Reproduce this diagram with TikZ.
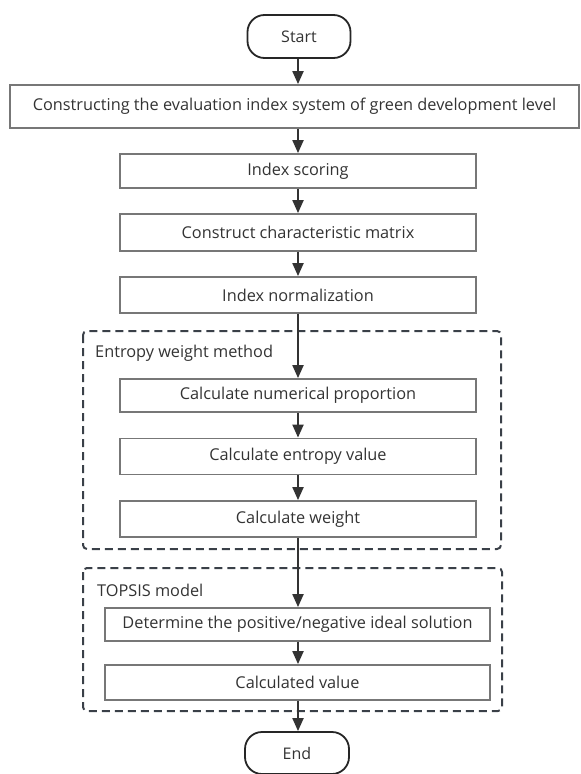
\documentclass[tikz,border=0pt]{standalone}
\usepackage{fontspec}
\setmainfont{Open Sans}
\usetikzlibrary{arrows.meta}
\definecolor{boxgray}{HTML}{777777}
\definecolor{txt}{HTML}{333333}
\definecolor{arr}{HTML}{333333}
\definecolor{dash}{HTML}{3A4048}
\tikzset{
  procbox/.style={draw=boxgray, line width=1.8pt, rectangle, inner sep=0pt, text=txt, font=\fontsize{16.3}{19}\selectfont},
  termbox/.style={draw=black!85, line width=1.8pt, rectangle, rounded corners=17pt, inner sep=0pt, text=txt, font=\fontsize{16}{19}\selectfont},
  flow/.style={draw=arr, line width=2pt, -{Triangle[length=13pt,width=11pt]}},
  groupbox/.style={draw=dash, line width=2pt, dash pattern=on 8pt off 5pt, rounded corners=4pt},
  grouplabel/.style={anchor=west, inner sep=0pt, text=txt, font=\fontsize{16.3}{19}\selectfont}
}
\begin{document}
\begin{tikzpicture}[x=1pt,y=-1pt]
\useasboundingbox (0,0) rectangle (581,774);
% group frames
\draw[groupbox] (83,331) rectangle (501,549);
\draw[groupbox] (83,568) rectangle (502,711);
\node[grouplabel] (gl1) at (95,353) {Entropy weight method};
\node[grouplabel] (gl2) at (97,590) {TOPSIS model};
% nodes
\node[termbox, minimum width=103pt, minimum height=43pt] (start) at (299,36.5) {Start};
\node[procbox, minimum width=569pt, minimum height=43pt] (b1) at (294.5,106.5) {Constructing the evaluation index system of green development level};
\node[procbox, minimum width=356pt, minimum height=34pt] (b2) at (298,171) {Index scoring};
\node[procbox, minimum width=356pt, minimum height=37pt] (b3) at (298,232.5) {Construct characteristic matrix};
\node[procbox, minimum width=356pt, minimum height=36pt] (b4) at (298,295) {Index normalization};
\node[procbox, minimum width=356pt, minimum height=33pt] (e1) at (298,395.5) {Calculate numerical proportion};
\node[procbox, minimum width=356pt, minimum height=36pt] (e2) at (298,456.5) {Calculate entropy value};
\node[procbox, minimum width=356pt, minimum height=36pt] (e3) at (298,519) {Calculate weight};
\node[procbox, minimum width=385pt, minimum height=33pt] (t1) at (297.5,624.5) {Determine the positive/negative ideal solution};
\node[procbox, minimum width=385pt, minimum height=35pt] (t2) at (297.5,682.5) {Calculated value};
\node[termbox, minimum width=104pt, minimum height=42pt] (end) at (297,753) {End};
% connectors
\draw[flow] (start.south -| 298,0) -- (b1.north -| 298,0);
\draw[flow] (b1.south -| 298,0) -- (b2.north -| 298,0);
\draw[flow] (b2.south -| 298,0) -- (b3.north -| 298,0);
\draw[flow] (b3.south -| 298,0) -- (b4.north -| 298,0);
\draw[flow] (b4.south -| 298,0) -- (e1.north -| 298,0);
\draw[flow] (e1.south -| 298,0) -- (e2.north -| 298,0);
\draw[flow] (e2.south -| 298,0) -- (e3.north -| 298,0);
\draw[flow] (e3.south -| 298,0) -- (t1.north -| 298,0);
\draw[flow] (t1.south -| 298,0) -- (t2.north -| 298,0);
\draw[flow] (t2.south -| 298,0) -- (end.north -| 298,0);
\end{tikzpicture}
\end{document}
